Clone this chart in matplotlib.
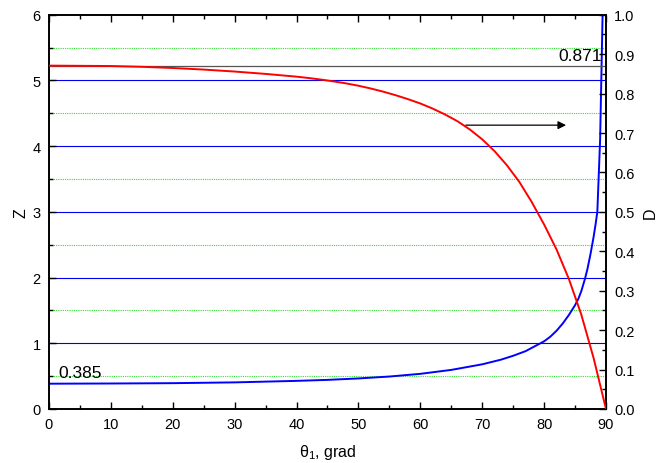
import numpy as np
import matplotlib.pyplot as plt
from matplotlib.ticker import MultipleLocator

plt.rcParams['font.family'] = ['Liberation Sans', 'DejaVu Sans']

# Z(theta), left axis
theta_z = [0, 10, 20, 30, 40, 45, 50, 55, 60, 65, 70, 73, 75, 77, 79, 80, 81, 82, 83,
           84, 85, 85.5, 86, 86.6, 87, 87.5, 88, 88.3, 88.6, 89.05, 89.45]
z_vals = [0.385, 0.388, 0.393, 0.405, 0.428, 0.443, 0.465, 0.494, 0.535, 0.595, 0.68,
          0.75, 0.81, 0.88, 0.98, 1.03, 1.10, 1.19, 1.30, 1.43, 1.58, 1.67, 1.79, 1.98,
          2.13, 2.36, 2.62, 2.8, 3.0, 4.1, 6.0]

# D(theta), right axis
theta_d = [0, 10, 15, 20, 25, 30, 35, 40, 42, 44, 46, 48, 50, 52, 54, 56, 58, 60, 62,
           64, 66, 68, 70, 72, 74, 76, 78, 80, 82, 84, 86, 88, 90]
d_vals = [0.871, 0.870, 0.868, 0.865, 0.861, 0.856, 0.850, 0.843, 0.8395, 0.8355,
          0.831, 0.826, 0.820, 0.813, 0.805, 0.796, 0.786, 0.775, 0.762, 0.747, 0.730,
          0.709, 0.684, 0.654, 0.618, 0.576, 0.525, 0.468, 0.405, 0.330, 0.240, 0.129,
          0.0]

d_limit = 0.871
z_start = 0.385

fig = plt.figure(figsize=(6.62, 4.64), dpi=100)
ax = fig.add_axes([0.074, 0.1164, 0.8414, 0.8496])
ax2 = ax.twinx()

# horizontal grid: solid blue at major Z, dotted green at half steps
for y in range(1, 6):
    ax.axhline(y, color='#0000ee', lw=0.8, zorder=1)
for y in np.arange(0.5, 6, 1.0):
    ax.axhline(y, color='#33dd33', lw=0.8, ls=(0, (1, 1)), zorder=1)

ax.plot(theta_z, z_vals, color='#0000ff', lw=1.4, zorder=3, solid_joinstyle='round')
ax.text(1.5, z_start + 0.05, f'{z_start}', fontsize=12.5, va='bottom', ha='left')

ax2.axhline(d_limit, color='#555555', lw=0.9, zorder=1)
ax2.plot(theta_d, d_vals, color='#ff0000', lw=1.4, zorder=3, solid_joinstyle='round')
ax2.text(89.3, d_limit + 0.006, f'{d_limit}', fontsize=12.5, va='bottom', ha='right')
ax2.annotate('', xy=(84, 0.72), xytext=(66.9, 0.72),
             arrowprops=dict(arrowstyle='-|>', color='black', lw=0.9,
                             mutation_scale=12))

ax.set_xlim(0, 90)
ax.set_ylim(0, 6)
ax2.set_ylim(0, 1.0)

ax.xaxis.set_major_locator(MultipleLocator(10))
ax.xaxis.set_minor_locator(MultipleLocator(5))
ax.yaxis.set_major_locator(MultipleLocator(1))
ax.yaxis.set_minor_locator(MultipleLocator(0.5))
ax2.yaxis.set_major_locator(MultipleLocator(0.1))
ax2.yaxis.set_minor_locator(MultipleLocator(0.05))
ax2.yaxis.set_major_formatter(plt.FormatStrFormatter('%.1f'))

ax.tick_params(which='both', direction='in', top=True, width=1.0, labelsize=10.5,
               pad=6)
ax.tick_params(which='major', length=5)
ax.tick_params(which='minor', length=3)
ax.tick_params(axis='y', which='both', right=False)
ax2.tick_params(which='both', direction='in', width=1.0, labelsize=10.5, pad=6)
ax2.tick_params(which='major', length=5)
ax2.tick_params(which='minor', length=3)

for a in (ax, ax2):
    for s in a.spines.values():
        s.set_linewidth(1.2)

ax.set_xlabel(r'$\mathregular{\theta_1}$, grad', fontsize=11.5, labelpad=8)
ax.set_ylabel('Z', fontsize=11.5, labelpad=3)
ax2.set_ylabel('D', fontsize=11.5, labelpad=6)

plt.savefig('out.png')
